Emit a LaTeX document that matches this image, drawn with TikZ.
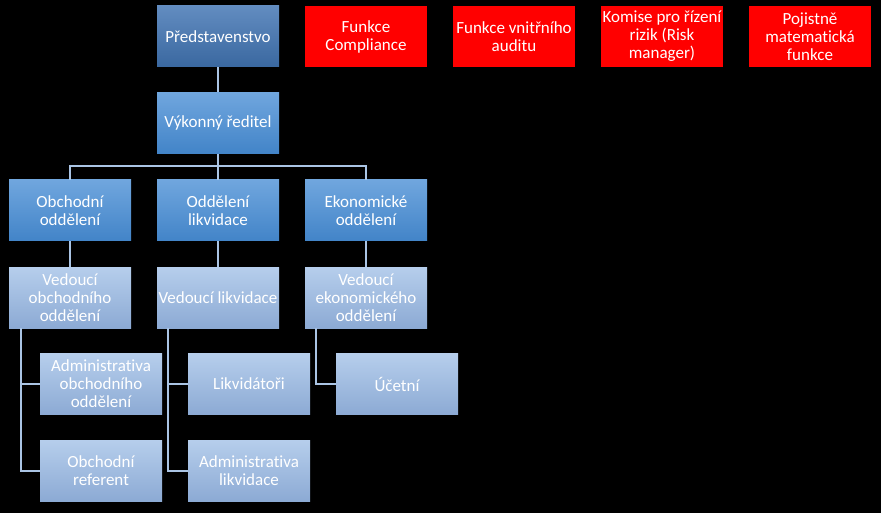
\documentclass[tikz,border=0pt]{standalone}
\usepackage{fontspec}
\setmainfont{Carlito}[Ligatures={NoCommon}]
\definecolor{darkT}{RGB}{98,140,192}
\definecolor{darkB}{RGB}{58,104,160}
\definecolor{midT}{RGB}{112,166,222}
\definecolor{midB}{RGB}{66,132,200}
\definecolor{lightT}{RGB}{182,206,236}
\definecolor{lightB}{RGB}{140,170,212}
\definecolor{conn}{RGB}{170,196,228}
\definecolor{redbox}{RGB}{255,0,0}
\begin{document}
\begin{tikzpicture}[x=1pt,y=-1pt,
  box/.style={minimum width=122pt,minimum height=61pt,inner sep=0pt,align=center,
    text=white,font=\fontsize{17}{18}\selectfont},
  darkbox/.style={box,top color=darkT,bottom color=darkB},
  midbox/.style={box,top color=midT,bottom color=midB},
  lightbox/.style={box,top color=lightT,bottom color=lightB},
  rbox/.style={box,fill=redbox},
  link/.style={draw=conn,line width=2pt}]
\fill[black] (0,0) rectangle (881,513);
\useasboundingbox (0,0) rectangle (881,513);
% top
\node[darkbox] (pred) at (218,36.5) {Představenstvo};
\node[midbox] (vyk) at (218,123) {Výkonný ředitel};
% red
\node[rbox] (r1) at (366,36.5) {Funkce\\Compliance};
\node[rbox] (r2) at (514,36.5) {Funkce vnitřního\\auditu};
\node[rbox] (r3) at (662,36.5) {Komise pro řízení\\rizik (Risk\\manager)};
\node[rbox] (r4) at (810,36.5) {Pojistně\\matematická\\funkce};
% row 2
\node[midbox] (o2) at (70,210.5) {Obchodní\\oddělení};
\node[midbox] (l2) at (218,210.5) {Oddělení\\likvidace};
\node[midbox] (e2) at (366,210.5) {Ekonomické\\oddělení};
% row 3
\node[lightbox] (o3) at (70,297.5) {Vedoucí\\obchodního\\oddělení};
\node[lightbox] (l3) at (218,297.5) {Vedoucí likvidace};
\node[lightbox] (e3) at (366,297.5) {Vedoucí\\ekonomického\\oddělení};
% row 4
\node[lightbox] (o4) at (101,384) {Administrativa\\obchodního\\oddělení};
\node[lightbox] (l4) at (249,384) {Likvidátoři};
\node[lightbox] (e4) at (397,384) {Účetní};
% row 5
\node[lightbox] (o5) at (101,470.5) {Obchodní\\referent};
\node[lightbox] (l5) at (249,470.5) {Administrativa\\likvidace};
% connectors
\coordinate (bus) at (218,166);
\draw[link] (pred) -- (vyk);
\draw[link] (vyk) -- (bus);
\draw[link] (o2.north) |- (bus);
\draw[link] (l2.north) -- (bus);
\draw[link] (e2.north) |- (bus);
\draw[link] (o2) -- (o3);
\draw[link] (l2) -- (l3);
\draw[link] (e2) -- (e3);
\draw[link] ([xshift=-49pt]o3.south) |- (o4.west);
\draw[link] ([xshift=-49pt]o3.south) |- (o5.west);
\draw[link] ([xshift=-50pt]l3.south) |- (l4.west);
\draw[link] ([xshift=-50pt]l3.south) |- (l5.west);
\draw[link] ([xshift=-50pt]e3.south) |- (e4.west);
\end{tikzpicture}
\end{document}
